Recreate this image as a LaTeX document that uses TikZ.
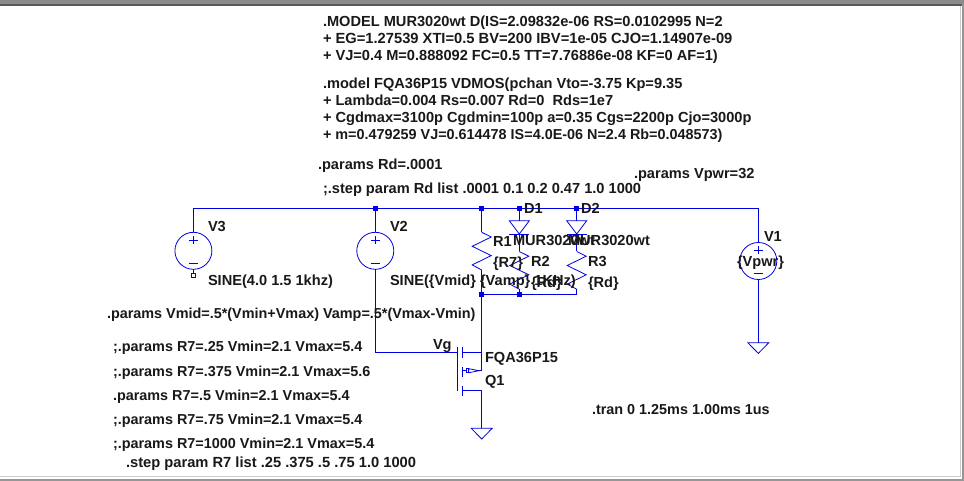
\documentclass[tikz,border=0pt]{standalone}
\usepackage{fontspec}
\setmainfont{Liberation Sans}
\usetikzlibrary{calc}
\definecolor{wire}{RGB}{0,0,225}
\definecolor{band}{RGB}{150,150,150}
\definecolor{edge}{RGB}{205,205,200}
\definecolor{txt}{RGB}{25,25,25}
\tikzset{
  lbl/.style={anchor=base west,inner sep=0pt,outer sep=0pt,text=txt,font=\fontsize{14.6}{16}\selectfont\bfseries},
  lblnarrow/.style={lbl,font=\fontsize{14.4}{16}\selectfont\bfseries},
  wireline/.style={draw=wire,line width=1pt},
  symb/.style={draw=wire,line width=0.8pt},
  dotj/.style={fill=wire,draw=none,minimum size=5pt,inner sep=0pt,outer sep=0pt,rectangle},
  src/.style={circle,draw=wire,line width=0.8pt,minimum size=37pt,inner sep=0pt,outer sep=0pt},
  gndsym/.style={symb},
  zigzag/.style={symb,line join=miter}
}
\newcommand{\gndmark}[1]{\draw[gndsym] ($(#1)+(-10.5,0)$) -- ($(#1)+(10.5,0)$) -- ($(#1)+(0,10.7)$) -- cycle;}
\newcommand{\zigres}[2]{\draw[zigzag] (#1) -- ++(9.5,4.7) -- ++(-19,9.3) -- ++(19,9.3) -- ++(-19,9.3) -- (#2);}
\begin{document}
\begin{tikzpicture}[x=1pt,y=-1pt]
\useasboundingbox (0,0) rectangle (964,481);
\fill[white] (0,0) rectangle (964,481);
\fill[band!110!white] (0,0) rectangle (964,4.5);
\fill[black!65] (0,4.5) rectangle (964,6.5);
\fill[edge] (959.5,6.5) rectangle (961,476.5);
\fill[edge] (0,475.5) rectangle (961,477);
\fill[band] (962,4.5) rectangle (964,481);
\fill[band] (0,478.5) rectangle (964,481);

% junctions
\node[dotj] (jV2) at (375.3,208.3) {};
\node[dotj] (jR1) at (481.7,208.3) {};
\node[dotj] (jD1) at (519.3,208.3) {};
\node[dotj] (jD2) at (576.7,208.3) {};
\node[dotj] (jB1) at (481.7,294.5) {};
\node[dotj] (jB2) at (519.3,294.5) {};
\coordinate (topL) at (193.4,208.3);
\coordinate (topR) at (758.3,208.3);
\coordinate (brR3) at (576.7,294.5);

% sources
\node[src] (V3) at (193.4,250.8) {};
\node[src] (V2) at (375.3,250.8) {};
\node[src] (V1) at (758.3,261) {};
\foreach \n in {V3,V2,V1}{
  \draw[symb] ($(\n)+(0,-14.8)$) -- ($(\n)+(0,-6.5)$);
  \draw[symb] ($(\n)+(-4.7,-10.8)$) -- ($(\n)+(4.7,-10.8)$);
  \draw[symb] ($(\n)+(-4.7,12.5)$) -- ($(\n)+(4.7,12.5)$);
}
\draw[wireline] (V3.north) -- (topL) -- (topR) -- (V1.north);
\draw[wireline] (V2.north) -- (jV2);
\coordinate (gV1) at (758.3,342.7);
\draw[wireline] (V1.south) -- (gV1);
\gndmark{gV1}
% V3 open pin
\coordinate (pinV3) at (193.4,273.5);
\draw[symb] (V3.south) -- (pinV3);
\draw[symb] (191.7,273.5) rectangle (195.2,277.6);

% R1
\coordinate (R1t) at (481.7,232.3);
\coordinate (R1b) at (481.7,270);
\draw[wireline] (jR1) -- (R1t);
\zigres{R1t}{R1b}
\draw[wireline] (R1b) -- (jB1);

% D1 and R2
\coordinate (D1a) at (519.3,220.7);
\coordinate (D1k) at (519.3,234);
\draw[wireline] (jD1) -- (D1a);
\draw[symb] (509.3,220.7) -- (529.3,220.7) -- (D1k) -- cycle;
\draw[symb] (509.3,234) -- (529.3,234);
\coordinate (R2t) at (519.3,251.5);
\coordinate (R2b) at (519.3,289.2);
\draw[wireline] (D1k) -- (R2t);
\zigres{R2t}{R2b}
\draw[wireline] (R2b) -- (jB2);

% D2 and R3
\coordinate (D2a) at (576.7,220.7);
\coordinate (D2k) at (576.7,234);
\draw[wireline] (jD2) -- (D2a);
\draw[symb] (566.7,220.7) -- (586.7,220.7) -- (D2k) -- cycle;
\draw[symb] (566.7,234) -- (586.7,234);
\coordinate (R3t) at (576.7,251.5);
\coordinate (R3b) at (576.7,289.2);
\draw[wireline] (D2k) -- (R3t);
\zigres{R3t}{R3b}
\draw[wireline] (R3b) -- (brR3) -- (jB1);

% mosfet
\coordinate (Qd) at (481.7,352.3);
\coordinate (Qs) at (481.7,390.3);
\coordinate (gQ) at (481.7,428.3);
\coordinate (Gate) at (457.3,352.3);
\draw[wireline] (V2.south) -- (375.3,352.3) -- (Gate);
\draw[wireline] (jB1) -- (Qd) -- (462.3,352.3);
\draw[wireline] (gQ) -- (Qs) -- (462.3,390.3);
\draw[wireline] (457.3,347) -- (457.3,391);
\draw[wireline] (462.3,347) -- (462.3,357.5);
\draw[wireline] (462.3,367) -- (462.3,377);
\draw[wireline] (462.3,386) -- (462.3,396);
\draw[symb] (481.7,352.3) -- (481.7,370.7) -- (478,370.7);
\draw[symb] (479,370.7) -- (468.7,368.7) -- (468.7,372.7) -- cycle;
\draw[symb] (466.7,368.7) rectangle (468.7,372.7);
\draw[symb] (462.3,370.7) -- (466.7,370.7);
\gndmark{gQ}

% labels
\node[lbl] (m1) at (323,26.3) {.MODEL MUR3020wt D(IS=2.09832e-06 RS=0.0102995 N=2};
\node[lbl,font=\fontsize{14.7}{16}\selectfont\bfseries] (m2) at (323,43.3) {+ EG=1.27539 XTI=0.5 BV=200 IBV=1e-05 CJO=1.14907e-09};
\node[lbl] (m3) at (323,60.3) {+ VJ=0.4 M=0.888092 FC=0.5 TT=7.76886e-08 KF=0 AF=1)};
\node[lbl] (m4) at (323,88.3) {.model FQA36P15 VDMOS(pchan Vto=-3.75 Kp=9.35};
\node[lbl] (m5) at (323,105.3) {+ Lambda=0.004 Rs=0.007 Rd=0\ \ Rds=1e7};
\node[lbl] (m6) at (323,122.3) {+ Cgdmax=3100p Cgdmin=100p a=0.35 Cgs=2200p Cjo=3000p};
\node[lblnarrow] (m7) at (323,139.3) {+ m=0.479259 VJ=0.614478 IS=4.0E-06 N=2.4 Rb=0.048573)};
\node[lbl] (p1) at (318,170) {.params Rd=.0001};
\node[lbl] (p2) at (323,194) {;.step param Rd list .0001 0.1 0.2 0.47 1.0 1000};
\node[lbl] (p3) at (634,179) {.params Vpwr=32};
\node[lbl] (lV3) at (208,232) {V3};
\node[lbl] (lV2) at (390,232) {V2};
\node[lbl] (lV1) at (764,241.7) {V1};
\node[lbl] (s3) at (208,285) {SINE(4.0 1.5 1khz)};
\node[lbl] (s2) at (390,285) {SINE(\{Vmid\} \{Vamp\} 1KHz)};
\node[lbl] (lD1) at (524,213.3) {D1};
\node[lbl] (lD2) at (581,213.3) {D2};
\node[lbl] (mD1) at (513,246) {MUR3020wt};
\node[lbl] (mD2) at (568,246) {MUR3020wt};
\node[lbl] (lR1) at (493,246.7) {R1};
\node[lbl] (vR1) at (493,267) {\{R7\}};
\node[lbl] (lR2) at (531,266.7) {R2};
\node[lbl] (vR2) at (531,287.3) {\{Rd\}};
\node[lbl] (lR3) at (588,266.7) {R3};
\node[lbl] (vR3) at (588,287.3) {\{Rd\}};
\node[lbl] (vV1) at (737,266) {\{Vpwr\}};
\node[lblnarrow] (q0) at (107,318.3) {.params Vmid=.5*(Vmin+Vmax) Vamp=.5*(Vmax-Vmin)};
\node[lblnarrow] (q1) at (113,351.7) {;.params R7=.25 Vmin=2.1 Vmax=5.4};
\node[lblnarrow] (q2) at (113,376) {;.params R7=.375 Vmin=2.1 Vmax=5.6};
\node[lblnarrow] (q3) at (113,400) {.params R7=.5 Vmin=2.1 Vmax=5.4};
\node[lblnarrow] (q4) at (113,424) {;.params R7=.75 Vmin=2.1 Vmax=5.4};
\node[lblnarrow] (q5) at (113,448.3) {;.params R7=1000 Vmin=2.1 Vmax=5.4};
\node[lbl,font=\fontsize{14.7}{16}\selectfont\bfseries] (q6) at (126,467.3) {.step param R7 list .25 .375 .5 .75 1.0 1000};
\node[lbl] (Vg) at (433,349.5) {Vg};
\node[lbl] (fq) at (485,362) {FQA36P15};
\node[lbl] (Q1) at (485,385) {Q1};
\node[lblnarrow] (tr) at (592,414) {.tran 0 1.25ms 1.00ms 1us};
\end{tikzpicture}
\end{document}
